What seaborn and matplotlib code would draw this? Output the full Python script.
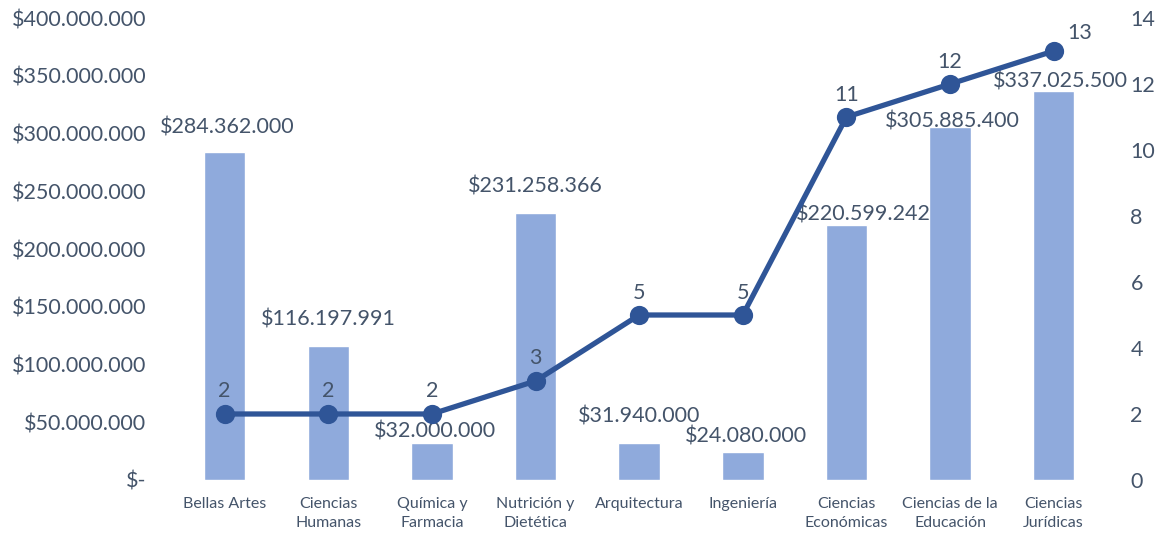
import numpy as np
import pandas as pd
import seaborn as sns
import matplotlib.pyplot as plt

facultades = ['Bellas Artes', 'Ciencias\nHumanas', 'Química y\nFarmacia', 'Nutrición y\nDietética',
              'Arquitectura', 'Ingeniería', 'Ciencias\nEconómicas', 'Ciencias de la\nEducación',
              'Ciencias\nJurídicas']
montos = [284362000, 116197991, 32000000, 231258366, 31940000, 24080000, 220599242, 305885400, 337025500]
cantidad = [2, 2, 2, 3, 5, 5, 11, 12, 13]

# desplazamiento (puntos) de cada etiqueta de barra, como quedaron en el original
desp_etq = [(2, 17), (0, 19), (2, 8), (0, 19), (0, 19), (2, 11), (12, 8), (2, 4), (5, 6.5)]

BAR = '#8FAADC'
LINE = '#2F5597'
TXT = '#44546A'


def pesos(v):
    if v == 0:
        return '$-'
    return '$' + f'{v:,.0f}'.replace(',', '.')


sns.set_theme(style='white')
plt.rcParams['font.family'] = ['Lato', 'DejaVu Sans']

df = pd.DataFrame({'facultad': facultades, 'monto': montos, 'cantidad': cantidad})

fig = plt.figure(figsize=(11.6, 5.39), dpi=100)
ax = fig.add_axes([0.149, 0.1095, 0.804, 0.857])
sns.barplot(data=df, x='facultad', y='monto', color=BAR, saturation=1, width=0.4, ax=ax)
ax.set_ylim(0, 400000000)
ax.set_yticks(np.arange(0, 400000001, 50000000))
ax.set_yticklabels([pesos(v) for v in ax.get_yticks()], fontsize=15.5, color=TXT)
ax.tick_params(axis='x', labelsize=11.5, colors=TXT, length=0, pad=12)
ax.tick_params(axis='y', length=0, pad=19)
for t in ax.get_xticklabels():
    t.set_linespacing(1.45)
ax.set_xlabel('')
ax.set_ylabel('')
for i, v in enumerate(montos):
    ax.annotate(pesos(v), (i, v), xytext=desp_etq[i], textcoords='offset points',
                ha='center', va='center', fontsize=15.5, color=TXT)

ax2 = ax.twinx()
sns.pointplot(data=df, x='facultad', y='cantidad', color=LINE, markersize=11, linewidth=3.8, ax=ax2)
ax2.set_ylim(0, 14)
ax2.set_yticks(range(0, 15, 2))
ax2.tick_params(axis='y', labelsize=15.5, colors=TXT, length=0, pad=18)
ax2.set_ylabel('')
ax2.set_xlim(-0.5, len(facultades) - 0.5)
for i, v in enumerate(cantidad):
    if i == len(cantidad) - 1:
        ax2.annotate(str(v), (i, v), xytext=(10, 6), textcoords='offset points',
                     ha='left', va='bottom', fontsize=15.5, color=TXT)
    else:
        ax2.annotate(str(v), (i, v), xytext=(0, 9), textcoords='offset points',
                     ha='center', va='bottom', fontsize=15.5, color=TXT)

for a in (ax, ax2):
    for s in a.spines.values():
        s.set_visible(False)

fig.savefig('out.png', dpi=100)
